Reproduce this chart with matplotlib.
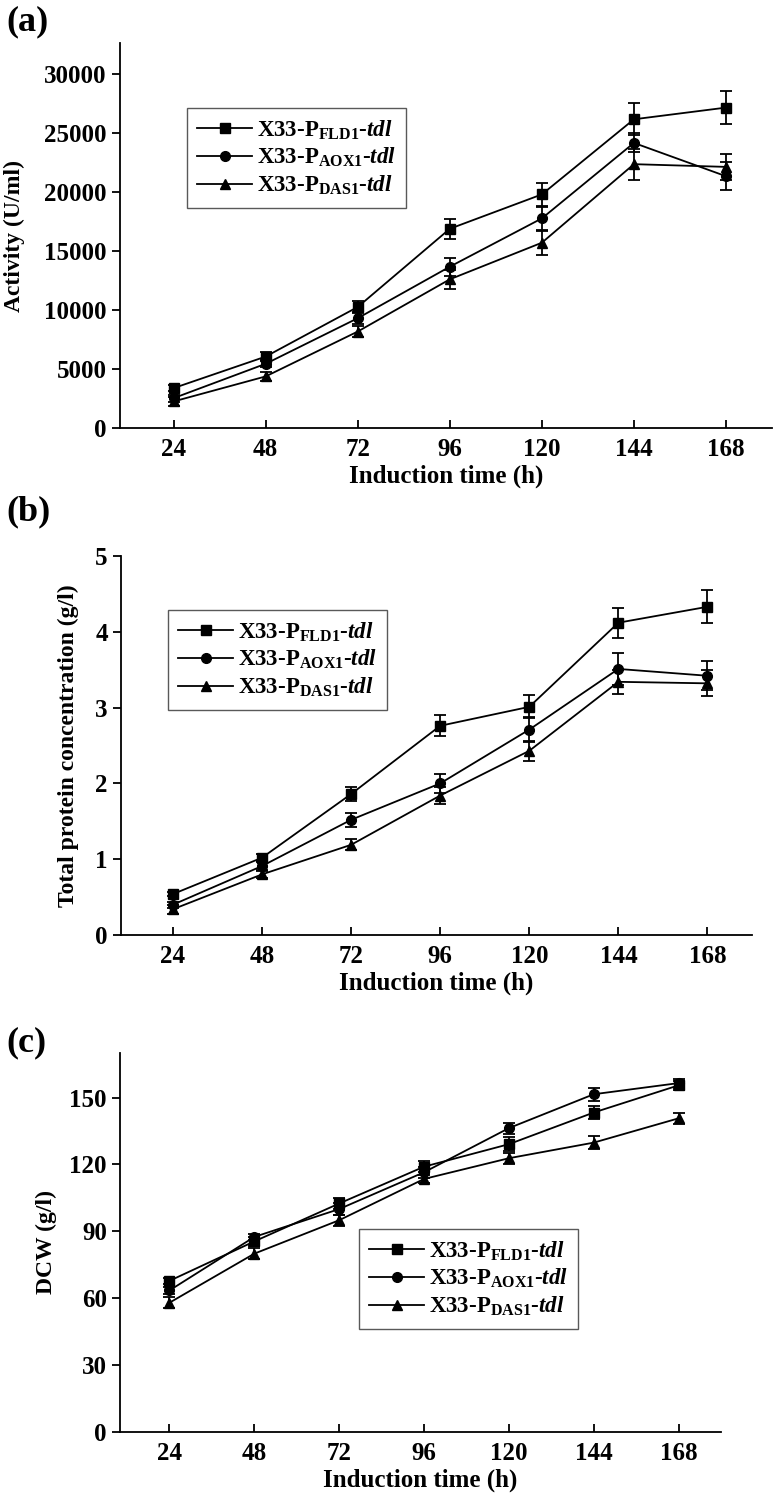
### ----------------------------------------------------------------------------
### --- Induction time courses of three X33 promoter strains (a, b, c)
### ----------------------------------------------------------------------------
import matplotlib
matplotlib.use('Agg')
import matplotlib.pyplot as plt

plt.rcParams['font.family'] = ['Liberation Serif', 'DejaVu Serif']
plt.rcParams['font.weight'] = 'bold'
plt.rcParams['mathtext.fontset'] = 'custom'
plt.rcParams['mathtext.rm'] = 'Liberation Serif:bold'
plt.rcParams['mathtext.it'] = 'Liberation Serif:bold:italic'
plt.rcParams['mathtext.bf'] = 'Liberation Serif:bold'

### --- Data -------------------------------------------------------------------
hours = [24, 48, 72, 96, 120, 144, 168]

labels = [r'X33-P$_{\mathrm{FLD1}}$-$\mathit{tdl}$',
          r'X33-P$_{\mathrm{AOX1}}$-$\mathit{tdl}$',
          r'X33-P$_{\mathrm{DAS1}}$-$\mathit{tdl}$']

# (a) activity, U/ml
act_fld     = [3380, 6050, 10250, 16870, 19780, 26140, 27130]
act_fld_err = [250, 350, 500, 850, 1000, 1350, 1400]
act_aox     = [2530, 5440, 9300, 13660, 17750, 24140, 21320]
act_aox_err = [300, 300, 500, 750, 1000, 800, 1200]
act_das     = [2250, 4370, 8170, 12590, 15690, 22340, 22110]
act_das_err = [400, 400, 500, 800, 1000, 1300, 1100]

# (b) total protein, g/l
prot_fld     = [0.54, 1.02, 1.86, 2.76, 3.01, 4.12, 4.33]
prot_fld_err = [0.03, 0.05, 0.09, 0.14, 0.15, 0.20, 0.22]
prot_aox     = [0.40, 0.91, 1.52, 2.00, 2.71, 3.51, 3.42]
prot_aox_err = [0.04, 0.05, 0.09, 0.13, 0.17, 0.21, 0.19]
prot_das     = [0.34, 0.80, 1.19, 1.84, 2.43, 3.34, 3.32]
prot_das_err = [0.06, 0.05, 0.07, 0.11, 0.13, 0.16, 0.17]

# (c) dry cell weight, g/l
dcw_fld     = [67.8, 85.5, 102.5, 119.0, 129.1, 143.3, 155.5]
dcw_fld_err = [1.5, 2.0, 2.5, 2.5, 3.0, 3.0, 2.0]
dcw_aox     = [63.5, 87.5, 100.0, 116.5, 136.3, 151.5, 156.5]
dcw_aox_err = [1.5, 1.5, 2.5, 2.5, 2.5, 3.0, 2.0]
dcw_das     = [58.0, 80.0, 95.0, 113.5, 122.8, 129.8, 140.7]
dcw_das_err = [2.5, 2.5, 2.5, 2.0, 2.5, 3.0, 2.5]

markers = ['s', 'o', '^']

### --- Figure -----------------------------------------------------------------
W, H = 774, 1495
fig = plt.figure(figsize=(W / 100, H / 100), dpi=100)

def px_axes(left, right, top, bottom):
    return fig.add_axes([left / W, 1 - bottom / H,
                         (right - left) / W, (bottom - top) / H])

def panel(ax, series, errs, ylim, yticks, ylabel, leg_xy, tag, tag_y):
    lines = []
    for vals, err, m in zip(series, errs, markers):
        eb = ax.errorbar(hours, vals, yerr=err, color='black', marker=m,
                         markersize=7, linewidth=1.3, elinewidth=1.3,
                         capsize=4, capthick=1.3)
        lines.append(eb[0])
    ax.set_xlim(10, 180)
    ax.set_ylim(*ylim)
    ax.set_xticks(hours)
    ax.set_yticks(yticks)
    ax.spines['top'].set_visible(False)
    ax.spines['right'].set_visible(False)
    ax.spines['left'].set_linewidth(1.3)
    ax.spines['bottom'].set_linewidth(1.3)
    ax.tick_params(axis='x', direction='in', length=6, width=1.3,
                   labelsize=18, pad=7)
    ax.tick_params(axis='y', direction='out', length=6, width=1.3,
                   labelsize=18)
    ax.set_xlabel('Induction time (h)', fontsize=18, fontweight='bold',
                  labelpad=3)
    ax.set_ylabel(ylabel, fontsize=17, fontweight='bold')
    ax.legend(lines, labels, loc='upper left',
              bbox_to_anchor=(leg_xy[0] / W, 1 - leg_xy[1] / H),
              bbox_transform=fig.transFigure, borderaxespad=0,
              fancybox=False, edgecolor='0.35', framealpha=1,
              fontsize=16.5, handlelength=2.4, handletextpad=0.2,
              labelspacing=0.2, borderpad=0.45)
    fig.text(6 / W, 1 - tag_y / H, tag, fontsize=26, fontweight='bold',
             va='top', ha='left')

ax1 = px_axes(120, 772, 43, 428)
panel(ax1, [act_fld, act_aox, act_das], [act_fld_err, act_aox_err, act_das_err],
      (0, 32600), range(0, 30001, 5000), 'Activity (U/ml)', (187, 108), '(a)', 5)
ax1.yaxis.set_label_coords(-0.146, 0.5)

ax2 = px_axes(121, 752, 556, 935)
panel(ax2, [prot_fld, prot_aox, prot_das], [prot_fld_err, prot_aox_err, prot_das_err],
      (0, 5), range(0, 6), 'Total protein concentration (g/l)', (168, 610), '(b)', 495)
ax2.yaxis.set_label_coords(-0.067, 0.5)

ax3 = px_axes(120, 721, 1053, 1432)
panel(ax3, [dcw_fld, dcw_aox, dcw_das], [dcw_fld_err, dcw_aox_err, dcw_das_err],
      (0, 170), range(0, 151, 30), 'DCW (g/l)', (359, 1229), '(c)', 1026)
ax3.yaxis.set_label_coords(-0.105, 0.5)

fig.savefig('out.png', dpi=100)
